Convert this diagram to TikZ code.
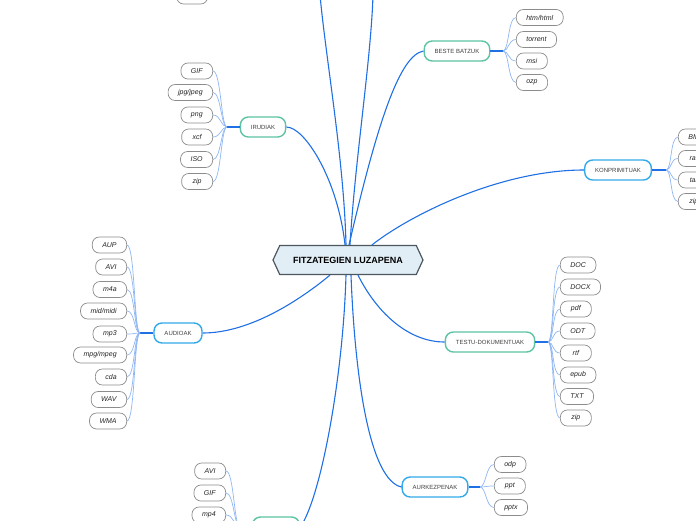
\documentclass[tikz,border=0pt]{standalone}
\usepackage{fontspec}
\setmainfont{Liberation Sans}
\usetikzlibrary{shapes.symbols}
\definecolor{mLine}{HTML}{1F6FE5}
\definecolor{mLeafLine}{HTML}{8FB6F2}
\definecolor{mGreen}{HTML}{5CC3A4}
\definecolor{mBlue}{HTML}{33A9EA}
\definecolor{mGray}{HTML}{8C8C8C}
\definecolor{mRoot}{HTML}{E2EEF5}
\definecolor{mRootEdge}{HTML}{4E575E}
\tikzset{
  rootnode/.style={signal, signal to=east and west, signal pointer angle=130,
                   draw=mRootEdge, fill=mRoot, line width=1.2pt,
                   minimum width=150pt, minimum height=29pt, inner sep=0pt,
                   font=\fontsize{9}{10}\selectfont\bfseries},
  topic/.style={draw, rounded corners=8pt, line width=1.4pt, minimum height=20pt,
                inner xsep=10.5pt, inner ysep=0pt, fill=white,
                font=\fontsize{6}{7}\selectfont, text=black!75},
  gtopic/.style={topic, draw=mGreen},
  btopic/.style={topic, draw=mBlue},
  leaf/.style={draw=mGray, rounded corners=7pt, line width=0.7pt, minimum height=16pt,
               minimum width=31pt, inner xsep=10pt, inner ysep=0pt, fill=white,
               font=\fontsize{7}{8}\selectfont\itshape, text=black!85},
  mainedge/.style={mLine, line width=1.1pt},
  stub/.style={mLine, line width=2.2pt},
  leafedge/.style={mLeafLine, line width=0.7pt},
}

\begin{document}
\begin{tikzpicture}[x=1pt, y=-1pt]
    \useasboundingbox (0,0) rectangle (696,520);
    \clip (0,0) rectangle (696,520);
    % centre
    \node[rootnode] (root) at (348,260) {FITZATEGIEN LUZAPENA};
    \coordinate (up1) at (320,-5);
    \coordinate (up2) at (373,-5);
    % topics
    \node[gtopic] (beste) at (457,51) {BESTE BATZUK};
    \node[gtopic] (irudiak) at (263,127) {IRUDIAK};
    \node[btopic] (konpr) at (618,170) {KONPRIMITUAK};
    \node[btopic] (audioak) at (178,333) {AUDIOAK};
    \node[gtopic] (testu) at (490,342) {TESTU-DOKUMENTUAK};
    \node[btopic] (aurkez) at (435,487) {AURKEZPENAK};
    \node[gtopic, minimum width=47pt] (bideoak) at (276,527) {};
    % branch points
    \coordinate (bBeste) at (503,51);
    \coordinate (bIrudiak) at (227,127);
    \coordinate (bKonpr) at (666,170);
    \coordinate (bAudioak) at (140,333);
    \coordinate (bTestu) at (548,342);
    \coordinate (bAurkez) at (480,487);
    \coordinate (bBideoak) at (240,527);
    % main edges
    \draw[mainedge] ([xshift=-2pt]root.north) .. controls (344,160) and (326,60) .. (up1);
    \draw[mainedge] ([xshift=2pt]root.north) .. controls (355,160) and (371,60) .. (up2);
    \draw[mainedge] ([xshift=1pt]root.north) .. controls (378,120) and (400,55) .. (beste.west);
    \draw[mainedge] ([xshift=-3pt]root.north) .. controls (338,180) and (305,127) .. (irudiak.east);
    \draw[mainedge] ([xshift=24pt]root.north) .. controls (410,215) and (500,170) .. (konpr.west);
    \draw[mainedge] ([xshift=-18pt]root.south) .. controls (300,300) and (250,333) .. (audioak.east);
    \draw[mainedge] ([xshift=10pt]root.south) .. controls (378,315) and (410,342) .. (testu.west);
    \draw[mainedge] ([xshift=3pt]root.south) .. controls (355,380) and (370,480) .. (aurkez.west);
    \draw[mainedge] ([xshift=-2pt]root.south) .. controls (343,380) and (320,500) .. (bideoak.east);
    % stubs
    \draw[stub] (beste.east) -- (bBeste);
    \draw[stub] (irudiak.west) -- (bIrudiak);
    \draw[stub] (konpr.east) -- (bKonpr);
    \draw[stub] (audioak.west) -- (bAudioak);
    \draw[stub] (testu.east) -- (bTestu);
    \draw[stub] (aurkez.east) -- (bAurkez);
    \draw[stub] (bideoak.west) -- (bBideoak);
    % beste batzuk
    \node[leaf, anchor=west] (be1) at (516,17.5) {htm/html};
    \node[leaf, anchor=west] (be2) at (516,39.5) {torrent};
    \node[leaf, anchor=west] (be3) at (516,61) {msi};
    \node[leaf, anchor=west] (be4) at (516,82.5) {ozp};
    \draw[leafedge] (bBeste) .. controls +(6,0) and +(-8,0) .. (be1.west);
    \draw[leafedge] (bBeste) .. controls +(6,0) and +(-8,0) .. (be2.west);
    \draw[leafedge] (bBeste) .. controls +(6,0) and +(-8,0) .. (be3.west);
    \draw[leafedge] (bBeste) .. controls +(6,0) and +(-8,0) .. (be4.west);
    % konprimituak
    \node[leaf, anchor=west] (ko1) at (678,137) {BMP};
    \node[leaf, anchor=west] (ko2) at (678,158.5) {rar};
    \node[leaf, anchor=west] (ko3) at (678,180) {tar};
    \node[leaf, anchor=west] (ko4) at (678,201.5) {zip};
    \draw[leafedge] (bKonpr) .. controls +(6,0) and +(-8,0) .. (ko1.west);
    \draw[leafedge] (bKonpr) .. controls +(6,0) and +(-8,0) .. (ko2.west);
    \draw[leafedge] (bKonpr) .. controls +(6,0) and +(-8,0) .. (ko3.west);
    \draw[leafedge] (bKonpr) .. controls +(6,0) and +(-8,0) .. (ko4.west);
    % testu-dokumentuak
    \node[leaf, anchor=west] (te1) at (560,265) {DOC};
    \node[leaf, anchor=west] (te2) at (560,287) {DOCX};
    \node[leaf, anchor=west] (te3) at (560,309) {pdf};
    \node[leaf, anchor=west] (te4) at (560,331) {ODT};
    \node[leaf, anchor=west] (te5) at (560,353) {rtf};
    \node[leaf, anchor=west] (te6) at (560,375) {epub};
    \node[leaf, anchor=west] (te7) at (560,396.5) {TXT};
    \node[leaf, anchor=west] (te8) at (560,418) {zip};
    \draw[leafedge] (bTestu) .. controls +(6,0) and +(-8,0) .. (te1.west);
    \draw[leafedge] (bTestu) .. controls +(6,0) and +(-8,0) .. (te2.west);
    \draw[leafedge] (bTestu) .. controls +(6,0) and +(-8,0) .. (te3.west);
    \draw[leafedge] (bTestu) .. controls +(6,0) and +(-8,0) .. (te4.west);
    \draw[leafedge] (bTestu) .. controls +(6,0) and +(-8,0) .. (te5.west);
    \draw[leafedge] (bTestu) .. controls +(6,0) and +(-8,0) .. (te6.west);
    \draw[leafedge] (bTestu) .. controls +(6,0) and +(-8,0) .. (te7.west);
    \draw[leafedge] (bTestu) .. controls +(6,0) and +(-8,0) .. (te8.west);
    % aurkezpenak
    \node[leaf, anchor=west] (au1) at (494,464.5) {odp};
    \node[leaf, anchor=west] (au2) at (494,486) {ppt};
    \node[leaf, anchor=west] (au3) at (494,507.5) {pptx};
    \draw[leafedge] (bAurkez) .. controls +(6,0) and +(-8,0) .. (au1.west);
    \draw[leafedge] (bAurkez) .. controls +(6,0) and +(-8,0) .. (au2.west);
    \draw[leafedge] (bAurkez) .. controls +(6,0) and +(-8,0) .. (au3.west);
    % irudiak
    \node[leaf, anchor=east] (ir1) at (213,71) {GIF};
    \node[leaf, anchor=east] (ir2) at (213,92.5) {jpg/jpeg};
    \node[leaf, anchor=east] (ir3) at (213,115) {png};
    \node[leaf, anchor=east] (ir4) at (213,137) {xcf};
    \node[leaf, anchor=east] (ir5) at (213,159.5) {ISO};
    \node[leaf, anchor=east] (ir6) at (213,181.5) {zip};
    \draw[leafedge] (bIrudiak) .. controls +(-6,0) and +(8,0) .. (ir1.east);
    \draw[leafedge] (bIrudiak) .. controls +(-6,0) and +(8,0) .. (ir2.east);
    \draw[leafedge] (bIrudiak) .. controls +(-6,0) and +(8,0) .. (ir3.east);
    \draw[leafedge] (bIrudiak) .. controls +(-6,0) and +(8,0) .. (ir4.east);
    \draw[leafedge] (bIrudiak) .. controls +(-6,0) and +(8,0) .. (ir5.east);
    \draw[leafedge] (bIrudiak) .. controls +(-6,0) and +(8,0) .. (ir6.east);
    % audioak
    \node[leaf, anchor=east] (ad1) at (127,245) {AUP};
    \node[leaf, anchor=east] (ad2) at (127,267) {AVI};
    \node[leaf, anchor=east] (ad3) at (127,289.5) {m4a};
    \node[leaf, anchor=east] (ad4) at (127,311) {mid/midi};
    \node[leaf, anchor=east] (ad5) at (127,334) {mp3};
    \node[leaf, anchor=east] (ad6) at (127,355) {mpg/mpeg};
    \node[leaf, anchor=east] (ad7) at (127,377) {cda};
    \node[leaf, anchor=east] (ad8) at (127,399.5) {WAV};
    \node[leaf, anchor=east] (ad9) at (127,421) {WMA};
    \draw[leafedge] (bAudioak) .. controls +(-6,0) and +(8,0) .. (ad1.east);
    \draw[leafedge] (bAudioak) .. controls +(-6,0) and +(8,0) .. (ad2.east);
    \draw[leafedge] (bAudioak) .. controls +(-6,0) and +(8,0) .. (ad3.east);
    \draw[leafedge] (bAudioak) .. controls +(-6,0) and +(8,0) .. (ad4.east);
    \draw[leafedge] (bAudioak) .. controls +(-6,0) and +(8,0) .. (ad5.east);
    \draw[leafedge] (bAudioak) .. controls +(-6,0) and +(8,0) .. (ad6.east);
    \draw[leafedge] (bAudioak) .. controls +(-6,0) and +(8,0) .. (ad7.east);
    \draw[leafedge] (bAudioak) .. controls +(-6,0) and +(8,0) .. (ad8.east);
    \draw[leafedge] (bAudioak) .. controls +(-6,0) and +(8,0) .. (ad9.east);
    % lower group (cut by the lower edge)
    \node[leaf, anchor=east] (bi1) at (226,471) {AVI};
    \node[leaf, anchor=east] (bi2) at (226,493) {GIF};
    \node[leaf, anchor=east] (bi3) at (226,515) {mp4};
    \draw[leafedge] (bBideoak) .. controls +(-6,0) and +(8,0) .. (bi1.east);
    \draw[leafedge] (bBideoak) .. controls +(-6,0) and +(8,0) .. (bi2.east);
    \draw[leafedge] (bBideoak) .. controls +(-6,0) and +(8,0) .. (bi3.east);
    % leaf cut by the upper edge
    \node[leaf, anchor=east] (top1) at (208,-4) {};
\end{tikzpicture}
\end{document}
